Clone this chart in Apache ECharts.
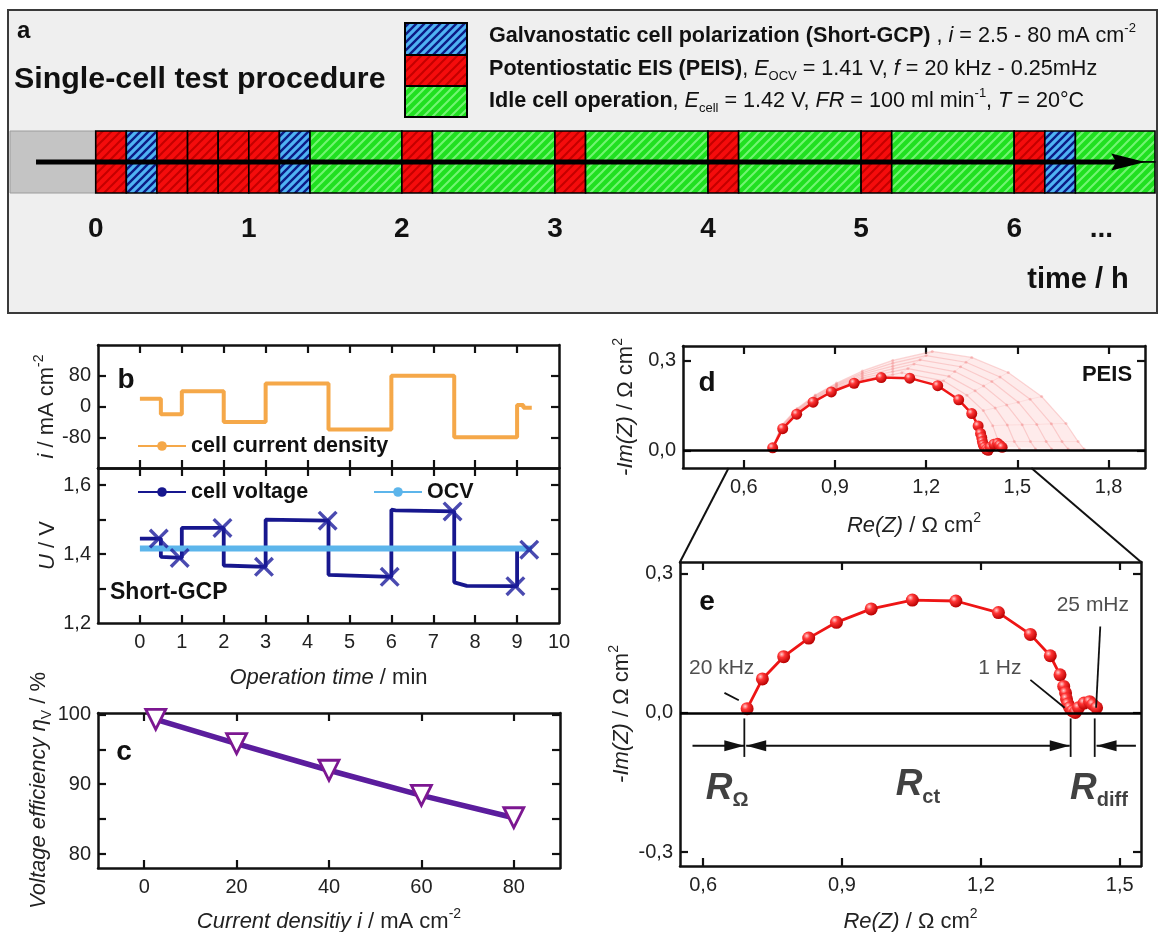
<!DOCTYPE html>
<html>
<head>
<meta charset="utf-8">
<title>Single-cell test procedure</title>
<script src="https://cdn.jsdelivr.net/npm/echarts@6.0.0/dist/echarts.min.js"></script>
<style>
html,body{margin:0;padding:0;background:#fff;}
#chart{width:1160px;height:932px;}
</style>
</head>
<body>
<div id="chart"></div>
<script>
// ================= DATA =================
// Panel a: test procedure timeline (hours); type 0 = pre-phase, 1 = Short-GCP, 2 = PEIS, 3 = idle
const segStart = [-0.56, 0.0, 0.2, 0.4, 0.6, 0.8, 1.0, 1.2, 1.4, 2.0, 2.2, 3.0, 3.2, 4.0, 4.2, 5.0, 5.2, 6.0, 6.2, 6.4];
const segEnd   = [0.0, 0.2, 0.4, 0.6, 0.8, 1.0, 1.2, 1.4, 2.0, 2.2, 3.0, 3.2, 4.0, 4.2, 5.0, 5.2, 6.0, 6.2, 6.4, 6.92];
const segType  = [0, 2, 1, 2, 2, 2, 2, 1, 3, 2, 3, 2, 3, 2, 3, 2, 3, 2, 1, 3];
const timeTickValues = [0, 1, 2, 3, 4, 5, 6, 6.57];
const timeTickLabels = ['0', '1', '2', '3', '4', '5', '6', '...'];
const arrowFrom = -0.39, arrowTo = 6.745;

// Panel b: Short-GCP (time in min)
const curT = [0, 0.5, 0.5, 1, 1, 2, 2, 3, 3, 4.5, 4.5, 6, 6, 7.5, 7.5, 9, 9, 9.15, 9.15, 9.35];
const curI = [20, 20, -20, -20, 40, 40, -40, -40, 60, 60, -60, -60, 80, 80, -80, -80, 4, 4, -3, -3];
const voltT = [0, 0.5, 0.5, 1.0, 1.0, 2.0, 2.0, 3.0, 3.0, 4.5, 4.5, 6.0, 6.0, 6.1, 7.5, 7.5, 7.8, 9.0, 9.0, 9.3];
const voltU = [1.445, 1.445, 1.392, 1.389, 1.476, 1.476, 1.367, 1.363, 1.500, 1.497, 1.340, 1.334, 1.529, 1.527, 1.524, 1.318, 1.308, 1.307, 1.415, 1.413];
const stepEndT = [0.45, 0.95, 1.97, 2.96, 4.48, 5.96, 7.46, 8.96, 9.29];
const stepEndU = [1.445, 1.389, 1.476, 1.363, 1.497, 1.334, 1.524, 1.307, 1.413];
const ocvT = [0, 9.35];
const ocvU = [1.416, 1.416];

// Panel c: voltage efficiency
const effI = [2.5, 20, 40, 60, 80];
const effV = [99.3, 95.8, 92.0, 88.4, 85.2];

// Panels d, e: Nyquist (Re, -Im in Ohm cm2)
const nyRe = [0.695, 0.728, 0.774, 0.828, 0.888, 0.963, 1.052, 1.146, 1.238, 1.307, 1.350, 1.371, 1.379, 1.383, 1.385, 1.388, 1.392, 1.398, 1.404, 1.411, 1.423, 1.435, 1.442, 1.450];
const nyIm = [0.009, 0.073, 0.121, 0.161, 0.195, 0.224, 0.243, 0.241, 0.216, 0.169, 0.123, 0.082, 0.057, 0.043, 0.030, 0.019, 0.011, 0.004, 0.001, 0.011, 0.021, 0.024, 0.018, 0.011];
// faded later spectra in panel d
const fadedRe = [
  [0.69,0.725,0.775,0.835,0.905,0.99,1.09,1.12,1.257,1.334,1.388,1.419,1.438,1.453],
  [0.69,0.725,0.775,0.835,0.905,0.99,1.09,1.14,1.275,1.361,1.427,1.467,1.49,1.507],
  [0.69,0.725,0.775,0.835,0.905,0.99,1.09,1.16,1.294,1.389,1.465,1.516,1.543,1.56],
  [0.69,0.725,0.775,0.835,0.905,0.99,1.09,1.18,1.313,1.416,1.503,1.564,1.595,1.613],
  [0.69,0.725,0.775,0.835,0.905,0.99,1.09,1.2,1.331,1.443,1.542,1.612,1.647,1.667],
  [0.69,0.725,0.775,0.835,0.905,0.99,1.09,1.22,1.35,1.47,1.58,1.66,1.70,1.72]
];
const fadedIm = [
  [0,0.071,0.125,0.168,0.206,0.237,0.253,0.259,0.232,0.184,0.133,0.083,0.03,0.005],
  [0,0.074,0.128,0.172,0.21,0.242,0.263,0.273,0.247,0.199,0.142,0.085,0.03,0.005],
  [0,0.077,0.131,0.175,0.214,0.248,0.272,0.288,0.263,0.215,0.152,0.086,0.03,0.005],
  [0,0.079,0.134,0.178,0.217,0.254,0.281,0.302,0.279,0.23,0.161,0.087,0.03,0.005],
  [0,0.082,0.137,0.182,0.221,0.259,0.291,0.316,0.294,0.245,0.171,0.089,0.03,0.005],
  [0,0.085,0.14,0.185,0.225,0.265,0.3,0.33,0.31,0.26,0.18,0.09,0.03,0.005]
];
// panel e annotations (data coordinates)
const freqLabels = ['20 kHz', '1 Hz', '25 mHz'];
const freqLabelX = [0.640, 1.241, 1.442];
const freqLabelY = [0.096, 0.096, 0.232];
const leaderFrom = [[0.646, 0.043], [1.307, 0.071], [1.458, 0.186]];
const leaderTo   = [[0.677, 0.027], [1.381, 0.011], [1.449, 0.011]];
const boundX = [0.689, 1.394, 1.446];
const boundTop = -0.012, boundBottom = -0.095;
const arrowStartX = [0.577, 0.693, 1.535];
const arrowEndX   = [0.689, 1.392, 1.450];
const arrowHeadStart = [0, 1, 0];
const arrowHeadEnd   = [1, 1, 1];
const arrowY = -0.071;
const resSub = ['Ω', 'ct', 'diff'];
const resLabelX = [0.652, 1.064, 1.455];
const resLabelY = [-0.164, -0.156, -0.164];

// ================= STYLE HELPERS =================
const FONT = '"Liberation Sans", Arial, Helvetica, sans-serif';
const INK = '#111';
const TXT = '#222';

function hatch(bg, fg, lw, size) {
  const c = document.createElement('canvas');
  c.width = size; c.height = size;
  const g = c.getContext('2d');
  g.fillStyle = bg; g.fillRect(0, 0, size, size);
  g.strokeStyle = fg; g.lineWidth = lw;
  g.beginPath();
  g.moveTo(-1, size + 1); g.lineTo(size + 1, -1);
  g.moveTo(-size / 2 - 1, size / 2 + 1); g.lineTo(size / 2 + 1, -size / 2 - 1);
  g.moveTo(size / 2 - 1, size * 1.5 + 1); g.lineTo(size * 1.5 + 1, size / 2 - 1);
  g.stroke();
  return {type: 'pattern', image: c, repeat: 'repeat'};
}
const FILLS = [
  '#c4c4c4',
  hatch('#4fb2f3', '#0c1b86', 2.4, 8),
  hatch('#f50c0c', '#c40000', 2.0, 9),
  hatch('#20e020', '#72f572', 2.0, 9)
];

function fmt(v, dec) {
  return (dec ? Number(v).toFixed(dec) : String(Math.round(v))).replace('.', ',');
}
const NAME_RICH = {
  n: {fontSize: 22, fontFamily: FONT, color: TXT, lineHeight: 30},
  i: {fontSize: 22, fontFamily: FONT, color: TXT, fontStyle: 'italic', lineHeight: 30},
  sup: {fontSize: 14, fontFamily: FONT, color: TXT, verticalAlign: 'top', lineHeight: 16},
  sub: {fontSize: 14, fontFamily: FONT, color: TXT, verticalAlign: 'bottom', lineHeight: 16}
};
function frameAxis(kind, grid, pos, min, max, ticks, labels, dec, name, nameGap) {
  const a = {
    type: 'value', gridIndex: grid, position: pos, min: min, max: max,
    splitLine: {show: false},
    axisPointer: {show: false},
    axisLine: {show: true, onZero: false, lineStyle: {color: INK, width: 2.5}},
    axisTick: {show: true, inside: true, length: 8, lineStyle: {color: INK, width: 2.2}, customValues: ticks},
    axisLabel: labels ? {
      show: true, customValues: labels, margin: kind === 'x' ? 9 : 7, fontSize: 20,
      color: TXT, fontFamily: FONT, formatter: v => fmt(v, dec)
    } : {show: false}
  };
  if (name) {
    Object.assign(a, {
      name: name, nameLocation: 'middle', nameGap: nameGap,
      nameTextStyle: {fontSize: 22, color: TXT, fontFamily: FONT, rich: NAME_RICH}
    });
    if (kind === 'y') a.nameRotate = 90;
  }
  return a;
}

const sphere = {
  type: 'radial', x: 0.35, y: 0.32, r: 0.7,
  colorStops: [{offset: 0, color: '#ffd0d0'}, {offset: 0.35, color: '#ff3535'}, {offset: 1, color: '#b80000'}]
};
const LEGEND_TEXT = {fontSize: 21.5, fontWeight: 'bold', color: INK, fontFamily: FONT};

// ================= OPTION =================
const option = {
  animation: false,
  backgroundColor: '#ffffff',
  textStyle: {fontFamily: FONT},
  grid: [
    {left: 10, top: 131, width: 1145, height: 62, outerBoundsMode: 'none'},
    {left: 98, top: 345, width: 461, height: 123, outerBoundsMode: 'none'},
    {left: 98, top: 468, width: 461, height: 155, outerBoundsMode: 'none'},
    {left: 98, top: 713, width: 462, height: 155, outerBoundsMode: 'none'},
    {left: 683, top: 346, width: 462, height: 122, outerBoundsMode: 'none'},
    {left: 680, top: 562, width: 461, height: 304, outerBoundsMode: 'none'}
  ],
  xAxis: [
    {
      type: 'value', gridIndex: 0, min: -0.56, max: 6.92,
      axisLine: {show: false}, axisTick: {show: false}, splitLine: {show: false}, axisPointer: {show: false},
      axisLabel: {
        show: true, customValues: timeTickValues, margin: 22, fontSize: 28, fontWeight: 'bold',
        color: INK, fontFamily: FONT,
        formatter: v => {
          let best = 0;
          timeTickValues.forEach((t, i) => { if (Math.abs(t - v) < Math.abs(timeTickValues[best] - v)) best = i; });
          return timeTickLabels[best];
        }
      }
    },
    frameAxis('x', 1, 'bottom', -1, 10, [0,1,2,3,4,5,6,7,8,9], null),
    frameAxis('x', 1, 'top', -1, 10, [0,1,2,3,4,5,6,7,8,9], null),
    frameAxis('x', 2, 'bottom', -1, 10, [0,1,2,3,4,5,6,7,8,9], [0,1,2,3,4,5,6,7,8,9,10], 0,
      '{i|Operation time}{n| / min}', 40),
    frameAxis('x', 2, 'top', -1, 10, [0,1,2,3,4,5,6,7,8,9], null),
    frameAxis('x', 3, 'bottom', -10, 90, [0,20,40,60,80], [0,20,40,60,80], 0,
      '{i|Current densitiy i}{n| / mA cm}{sup|-2}', 39),
    frameAxis('x', 3, 'top', -10, 90, [0,20,40,60,80], null),
    frameAxis('x', 4, 'bottom', 0.40, 1.92, [0.6,0.9,1.2,1.5,1.8], [0.6,0.9,1.2,1.5,1.8], 1,
      '{i|Re(Z)}{n| / Ω cm}{sup|2}', 43),
    frameAxis('x', 4, 'top', 0.40, 1.92, [0.6,0.9,1.2,1.5,1.8], null),
    frameAxis('x', 5, 'bottom', 0.55, 1.546, [0.6,0.9,1.2,1.5], [0.6,0.9,1.2,1.5], 1,
      '{i|Re(Z)}{n| / Ω cm}{sup|2}', 41),
    frameAxis('x', 5, 'top', 0.55, 1.546, [0.6,0.9,1.2,1.5], null)
  ],
  yAxis: [
    {type: 'value', gridIndex: 0, min: 0, max: 2, show: false},
    frameAxis('y', 1, 'left', -160, 160, [-80,0,80], [-80,0,80], 0, '{i|i}{n| / mA cm}{sup|-2}', 34),
    frameAxis('y', 1, 'right', -160, 160, [-80,0,80], null),
    frameAxis('y', 2, 'left', 1.2, 1.65, [1.3,1.4,1.5,1.6], [1.2,1.4,1.6], 1, '{i|U}{n| / V}', 34),
    frameAxis('y', 2, 'right', 1.2, 1.65, [1.3,1.4,1.5,1.6], null),
    frameAxis('y', 3, 'left', 78, 100.2, [80,85,90,95,100], [80,90,100], 0, '{i|Voltage efficiency η}{sub|V}{n| / %}', 36),
    frameAxis('y', 3, 'right', 78, 100.2, [80,85,90,95,100], null),
    frameAxis('y', 4, 'left', -0.058, 0.348, [0,0.3], [0,0.3], 1, '{i|-Im(Z)}{n| / Ω cm}{sup|2}', 42),
    frameAxis('y', 4, 'right', -0.058, 0.348, [0,0.3], null),
    frameAxis('y', 5, 'left', -0.33, 0.325, [-0.3,0,0.3], [-0.3,0,0.3], 1, '{i|-Im(Z)}{n| / Ω cm}{sup|2}', 43),
    frameAxis('y', 5, 'right', -0.33, 0.325, [-0.3,0,0.3], null)
  ],
  legend: [
    {data: ['cell current density'], left: 137, top: 435, padding: 0, itemWidth: 48, itemHeight: 12,
     selectedMode: false, textStyle: LEGEND_TEXT},
    {data: ['cell voltage'], left: 137, top: 481, padding: 0, itemWidth: 48, itemHeight: 12,
     selectedMode: false, textStyle: LEGEND_TEXT},
    {data: ['OCV'], left: 373, top: 481, padding: 0, itemWidth: 48, itemHeight: 12,
     selectedMode: false, textStyle: LEGEND_TEXT}
  ],
  series: [
    // ---- panel a timeline ----
    {
      type: 'custom', xAxisIndex: 0, yAxisIndex: 0, silent: true, z: 3,
      data: segStart.map((s, i) => [s, segEnd[i], segType[i]]),
      renderItem: (params, api) => {
        const s = api.value(0), e = api.value(1), t = api.value(2);
        const a = api.coord([s, 2]), m = api.coord([e, 1]), b = api.coord([e, 0]);
        const x = a[0], w = m[0] - a[0];
        if (t === 0) {
          return {type: 'rect', shape: {x: x, y: a[1], width: w, height: b[1] - a[1]},
                  style: {fill: FILLS[0], stroke: '#9c9c9c', lineWidth: 1}};
        }
        return {type: 'group', children: [
          {type: 'rect', shape: {x: x, y: a[1], width: w, height: m[1] - a[1]}, style: {fill: FILLS[t], stroke: '#000', lineWidth: 1.6}},
          {type: 'rect', shape: {x: x, y: m[1], width: w, height: b[1] - m[1]}, style: {fill: FILLS[t], stroke: '#000', lineWidth: 1.6}}
        ]};
      }
    },
    {
      type: 'line', xAxisIndex: 0, yAxisIndex: 0, silent: true, z: 5,
      data: [
        {value: [arrowFrom, 1], symbol: 'none'},
        {value: [arrowTo, 1], symbol: 'path://M0,0L34,8.5L0,17L5,8.5Z', symbolSize: [34, 17]}
      ],
      lineStyle: {color: '#000', width: 5}, itemStyle: {color: '#000'}
    },
    // ---- panel b ----
    {
      name: 'cell current density', type: 'line', xAxisIndex: 1, yAxisIndex: 1,
      data: curT.map((t, i) => [t, curI[i]]),
      symbol: 'circle', symbolSize: 4, showSymbol: false,
      lineStyle: {color: '#f5a849', width: 4}, itemStyle: {color: '#f5a849'}, z: 3
    },
    {
      name: 'cell voltage', type: 'line', xAxisIndex: 3, yAxisIndex: 3,
      data: voltT.map((t, i) => [t, voltU[i]]),
      symbol: 'circle', symbolSize: 4, showSymbol: false,
      lineStyle: {color: '#17178e', width: 3.8}, itemStyle: {color: '#17178e'}, z: 3
    },
    {
      name: 'OCV', type: 'line', xAxisIndex: 3, yAxisIndex: 3,
      data: ocvT.map((t, i) => [t, ocvU[i]]),
      symbol: 'circle', symbolSize: 4, showSymbol: false,
      lineStyle: {color: '#5cb5eb', width: 6}, itemStyle: {color: '#5cb5eb'}, z: 4
    },
    {
      name: 'step end', type: 'scatter', xAxisIndex: 3, yAxisIndex: 3,
      data: stepEndT.map((t, i) => [t, stepEndU[i]]),
      symbol: 'path://M0,2.4L2.4,0L10,7.6L17.6,0L20,2.4L12.4,10L20,17.6L17.6,20L10,12.4L2.4,20L0,17.6L7.6,10Z',
      symbolSize: 20, itemStyle: {color: '#1d1d9c'}, z: 5, silent: true
    },
    // ---- panel c ----
    {
      name: 'efficiency', type: 'line', xAxisIndex: 5, yAxisIndex: 5,
      data: effI.map((x, i) => [x, effV[i]]),
      symbol: 'triangle', symbolRotate: 180, symbolSize: 20,
      lineStyle: {color: '#5b1d9d', width: 5.5},
      itemStyle: {color: '#ffffff', borderColor: '#7c1791', borderWidth: 2.8}, z: 3
    },
    // ---- panel d ----
    {
      type: 'custom', xAxisIndex: 7, yAxisIndex: 7, silent: true, z: 1, data: [[0]],
      renderItem: (params, api) => {
        const k = fadedRe.length - 1;
        const outer = fadedRe[k].map((x, i) => api.coord([x, fadedIm[k][i]]));
        const inner = nyRe.map((x, i) => api.coord([x, nyIm[i]])).reverse();
        return {type: 'polygon', shape: {points: outer.concat(inner)}, style: {fill: 'rgba(252,175,175,0.25)'}};
      }
    },
    ...fadedRe[0].map((_, j) => ({
      type: 'line', xAxisIndex: 7, yAxisIndex: 7, silent: true, z: 1, symbol: 'none',
      data: fadedRe.map((re, k) => [re[j], fadedIm[k][j]]),
      lineStyle: {color: 'rgba(245,150,150,0.18)', width: 1}
    })),
    ...fadedRe.map((re, k) => ({
      type: 'line', xAxisIndex: 7, yAxisIndex: 7, silent: true, z: 2,
      data: re.map((x, i) => [x, fadedIm[k][i]]),
      symbol: 'circle', symbolSize: 3,
      lineStyle: {color: 'rgba(242,120,120,0.28)', width: 1.2},
      itemStyle: {color: 'rgba(242,120,120,0.35)'}
    })),
    {
      name: 'PEIS d', type: 'line', xAxisIndex: 7, yAxisIndex: 7, z: 4,
      data: nyRe.map((x, i) => [x, nyIm[i]]),
      symbol: 'circle', symbolSize: 11,
      lineStyle: {color: '#ee1515', width: 2.5}, itemStyle: {color: sphere},
      markLine: {silent: true, symbol: 'none', label: {show: false}, animation: false,
                 lineStyle: {color: '#000', width: 2.5, type: 'solid'}, data: [{yAxis: 0}]}
    },
    // ---- panel e ----
    {
      name: 'PEIS e', type: 'line', xAxisIndex: 9, yAxisIndex: 9, z: 4,
      data: nyRe.map((x, i) => [x, nyIm[i]]),
      symbol: 'circle', symbolSize: 13,
      lineStyle: {color: '#ee1515', width: 2.8}, itemStyle: {color: sphere},
      markLine: {silent: true, symbol: 'none', label: {show: false}, animation: false,
                 lineStyle: {color: '#000', width: 2.5, type: 'solid'}, data: [{yAxis: 0}]}
    },
    {
      type: 'custom', xAxisIndex: 9, yAxisIndex: 9, silent: true, z: 6,
      data: leaderFrom.map((p, i) => [p[0], p[1], leaderTo[i][0], leaderTo[i][1]])
            .concat(boundX.map(x => [x, boundTop, x, boundBottom])),
      renderItem: (params, api) => {
        const a = api.coord([api.value(0), api.value(1)]);
        const b = api.coord([api.value(2), api.value(3)]);
        return {type: 'line', shape: {x1: a[0], y1: a[1], x2: b[0], y2: b[1]}, style: {stroke: INK, lineWidth: 1.8}};
      }
    },
    {
      type: 'custom', xAxisIndex: 9, yAxisIndex: 9, silent: true, z: 6,
      data: arrowStartX.map((x, i) => [x, arrowEndX[i], arrowY, arrowHeadStart[i], arrowHeadEnd[i]]),
      renderItem: (params, api) => {
        const a = api.coord([api.value(0), api.value(2)]);
        const b = api.coord([api.value(1), api.value(2)]);
        const L = 20, H = 5.5, d = b[0] > a[0] ? 1 : -1;
        const head = (tip, dir) => ({type: 'polygon',
          shape: {points: [[tip[0], tip[1]], [tip[0] - dir * L, tip[1] - H], [tip[0] - dir * L, tip[1] + H]]},
          style: {fill: INK}});
        const ch = [{type: 'line', shape: {x1: a[0], y1: a[1], x2: b[0], y2: b[1]}, style: {stroke: INK, lineWidth: 2}}];
        if (api.value(4)) ch.push(head(b, d));
        if (api.value(3)) ch.push(head(a, -d));
        return {type: 'group', children: ch};
      }
    },
    {
      type: 'scatter', xAxisIndex: 9, yAxisIndex: 9, silent: true, z: 7,
      symbolSize: 1, itemStyle: {color: 'rgba(0,0,0,0)'},
      data: freqLabels.map((t, i) => ({value: [freqLabelX[i], freqLabelY[i]], label: {formatter: t}})),
      label: {show: true, position: 'inside', fontSize: 21, color: TXT, fontFamily: FONT}
    },
    {
      type: 'scatter', xAxisIndex: 9, yAxisIndex: 9, silent: true, z: 7,
      symbolSize: 1, itemStyle: {color: 'rgba(0,0,0,0)'},
      data: resSub.map((s, i) => ({value: [resLabelX[i], resLabelY[i]], label: {formatter: '{R|R}{s|' + s + '}'}})),
      label: {show: true, position: 'inside', color: INK, fontFamily: FONT,
        rich: {
          R: {fontSize: 37, fontWeight: 'bold', fontStyle: 'italic', color: INK, fontFamily: FONT, lineHeight: 44},
          s: {fontSize: 20, fontWeight: 'bold', color: INK, fontFamily: FONT, verticalAlign: 'bottom', lineHeight: 22}
        }}
    }
  ],
  graphic: [
    {id: 'boxA', type: 'rect', z: -10, silent: true, shape: {x: 8, y: 10, width: 1149, height: 303},
     style: {fill: '#efefef', stroke: '#3a3a3a', lineWidth: 2}},
    {id: 'ta', type: 'text', z: 10, x: 17, y: 31, style: {text: 'a', font: 'bold 24px ' + FONT, fill: INK, verticalAlign: 'middle', textVerticalAlign: 'middle'}},
    {id: 'ttl', type: 'text', z: 10, x: 14, y: 80, style: {text: 'Single-cell test procedure', font: 'bold 30.4px ' + FONT, fill: INK, verticalAlign: 'middle', textVerticalAlign: 'middle'}},
    {id: 'lb1', type: 'rect', z: 10, shape: {x: 405, y: 23, width: 62, height: 32}, style: {fill: FILLS[1], stroke: '#000', lineWidth: 2}},
    {id: 'lb2', type: 'rect', z: 10, shape: {x: 405, y: 55, width: 62, height: 31}, style: {fill: FILLS[2], stroke: '#000', lineWidth: 2}},
    {id: 'lb3', type: 'rect', z: 10, shape: {x: 405, y: 86, width: 62, height: 31}, style: {fill: FILLS[3], stroke: '#000', lineWidth: 2}},
    {id: 'lt1', type: 'text', z: 10, x: 489, y: 36, style: {
      text: '{b|Galvanostatic cell polarization (Short-GCP)}{n| , }{i|i}{n| = 2.5 - 80 mA cm}{sup|-2}',
      verticalAlign: 'middle', textVerticalAlign: 'middle', fill: INK, font: '21.6px ' + FONT,
      rich: legendRich()}},
    {id: 'lt2', type: 'text', z: 10, x: 489, y: 69, style: {
      text: '{b|Potentiostatic EIS (PEIS)}{n|, }{i|E}{sub|OCV}{n| = 1.41 V, }{i|f}{n| = 20 kHz - 0.25mHz}',
      verticalAlign: 'middle', textVerticalAlign: 'middle', fill: INK, font: '21.6px ' + FONT,
      rich: legendRich()}},
    {id: 'lt3', type: 'text', z: 10, x: 489, y: 101, style: {
      text: '{b|Idle cell operation}{n|, }{i|E}{sub|cell}{n| = 1.42 V, }{i|FR}{n| = 100 ml min}{sup|-1}{n|, }{i|T}{n| = 20°C}',
      verticalAlign: 'middle', textVerticalAlign: 'middle', fill: INK, font: '21.6px ' + FONT,
      rich: legendRich()}},
    {id: 'tunit', type: 'text', z: 10, x: 1078, y: 280, style: {text: 'time / h', font: 'bold 29px ' + FONT, fill: INK,
      align: 'center', textAlign: 'center', verticalAlign: 'middle', textVerticalAlign: 'middle'}},
    {id: 'tb', type: 'text', z: 10, x: 126, y: 380, style: {text: 'b', font: 'bold 28px ' + FONT, fill: INK, align: 'center', textAlign: 'center', verticalAlign: 'middle', textVerticalAlign: 'middle'}},
    {id: 'gcp', type: 'text', z: 10, x: 110, y: 593, style: {text: 'Short-GCP', font: 'bold 23px ' + FONT, fill: INK, verticalAlign: 'middle', textVerticalAlign: 'middle'}},
    {id: 'tc', type: 'text', z: 10, x: 124, y: 752, style: {text: 'c', font: 'bold 28px ' + FONT, fill: INK, align: 'center', textAlign: 'center', verticalAlign: 'middle', textVerticalAlign: 'middle'}},
    {id: 'td', type: 'text', z: 10, x: 707, y: 383, style: {text: 'd', font: 'bold 28px ' + FONT, fill: INK, align: 'center', textAlign: 'center', verticalAlign: 'middle', textVerticalAlign: 'middle'}},
    {id: 'peis', type: 'text', z: 10, x: 1107, y: 375, style: {text: 'PEIS', font: 'bold 22px ' + FONT, fill: INK, align: 'center', textAlign: 'center', verticalAlign: 'middle', textVerticalAlign: 'middle'}},
    {id: 'te', type: 'text', z: 10, x: 707, y: 602, style: {text: 'e', font: 'bold 28px ' + FONT, fill: INK, align: 'center', textAlign: 'center', verticalAlign: 'middle', textVerticalAlign: 'middle'}}
  ]
};

function legendRich() {
  return {
    b: {fontSize: 21.6, fontWeight: 'bold', fontFamily: FONT, fill: INK, color: INK, lineHeight: 28},
    n: {fontSize: 21.6, fontFamily: FONT, fill: INK, color: INK, lineHeight: 28},
    i: {fontSize: 21.6, fontStyle: 'italic', fontFamily: FONT, fill: INK, color: INK, lineHeight: 28},
    sup: {fontSize: 13, fontFamily: FONT, fill: INK, color: INK, verticalAlign: 'top', lineHeight: 14},
    sub: {fontSize: 13, fontFamily: FONT, fill: INK, color: INK, verticalAlign: 'bottom', lineHeight: 14}
  };
}

const chart = echarts.init(document.getElementById('chart'), null, {renderer: 'canvas', width: 1160, height: 932});
chart.setOption(option);

// zoom-connector lines from panel d to panel e, placed through the axes' scales
try {
  const dX = v => chart.convertToPixel({xAxisIndex: 7}, v);
  const dY = v => chart.convertToPixel({yAxisIndex: 7}, v);
  const eX = v => chart.convertToPixel({xAxisIndex: 9}, v);
  const eY = v => chart.convertToPixel({yAxisIndex: 9}, v);
  const eMin = 0.55, eMax = 1.546;
  const yStart = dY(-0.058), yEnd = eY(0.325);
  chart.setOption({graphic: [
    {id: 'zl1', type: 'line', z: 10, silent: true, shape: {x1: dX(eMin), y1: yStart, x2: eX(eMin), y2: yEnd}, style: {stroke: INK, lineWidth: 2}},
    {id: 'zl2', type: 'line', z: 10, silent: true, shape: {x1: dX(eMax), y1: yStart, x2: eX(eMax), y2: yEnd}, style: {stroke: INK, lineWidth: 2}}
  ]});
} catch (err) { console.error(err); }
</script>
</body>
</html>
